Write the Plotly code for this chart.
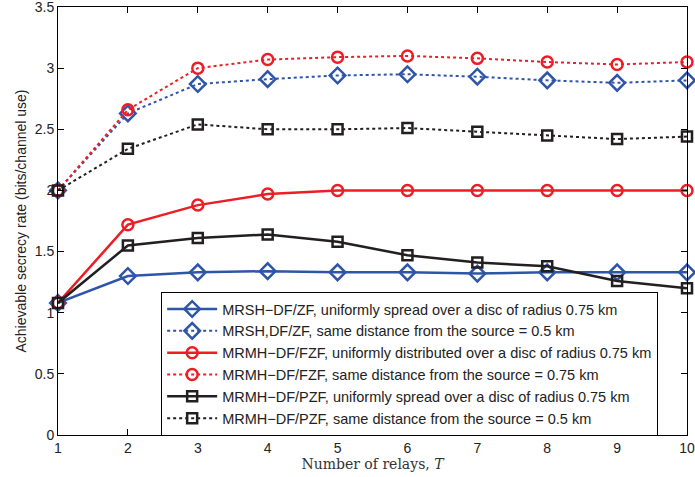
import plotly.graph_objects as go

relays = [1, 2, 3, 4, 5, 6, 7, 8, 9, 10]
mrsh_uniform = [1.08, 1.30, 1.33, 1.34, 1.33, 1.33, 1.32, 1.33, 1.33, 1.33]
mrsh_same = [2.00, 2.63, 2.87, 2.91, 2.94, 2.95, 2.93, 2.90, 2.88, 2.90]
fzf_uniform = [1.08, 1.72, 1.88, 1.97, 2.00, 2.00, 2.00, 2.00, 2.00, 2.00]
fzf_same = [2.00, 2.66, 3.00, 3.07, 3.09, 3.10, 3.08, 3.05, 3.03, 3.05]
pzf_uniform = [1.08, 1.55, 1.61, 1.64, 1.58, 1.47, 1.41, 1.38, 1.26, 1.20]
pzf_same = [2.00, 2.34, 2.54, 2.50, 2.50, 2.51, 2.48, 2.45, 2.42, 2.44]

labels = [
    "MRSH\u2212DF/ZF, uniformly spread over a disc of radius 0.75 km",
    "MRSH,DF/ZF, same distance from the source = 0.5 km",
    "MRMH\u2212DF/FZF, uniformly distributed over a disc of radius 0.75 km",
    "MRMH\u2212DF/FZF, same distance from the source = 0.75 km",
    "MRMH\u2212DF/PZF, uniformly spread over a disc of radius 0.75 km",
    "MRMH\u2212DF/PZF, same distance from the source = 0.5 km",
]

BLUE = "#2f55a8"
RED = "#ee1d25"
BLACK = "#231f20"

series = [
    (mrsh_uniform, BLUE, "solid", "diamond-open", 12),
    (mrsh_same, BLUE, "dot", "diamond-open", 12),
    (fzf_uniform, RED, "solid", "circle-open", 11),
    (fzf_same, RED, "dot", "circle-open", 11),
    (pzf_uniform, BLACK, "solid", "square-open", 10),
    (pzf_same, BLACK, "dot", "square-open", 10),
]

fig = go.Figure()
for (vals, col, dash, sym, sz), lab in zip(series, labels):
    fig.add_trace(go.Scatter(
        x=relays, y=vals, mode="lines+markers", name=lab, cliponaxis=False,
        line=dict(color=col, width=2.5 if dash == "solid" else 2, dash=dash),
        marker=dict(symbol=sym, size=sz, color=col, line=dict(width=2.5, color=col)),
    ))

SANS = "Liberation Sans"
axis_common = dict(
    showline=True, linecolor="black", linewidth=1, mirror="ticks",
    ticks="inside", ticklen=6, tickcolor="black", showgrid=False, zeroline=False,
    ticklabeloverflow="allow", automargin=False,
    tickfont=dict(family=SANS, size=14, color="#222"),
)

fig.update_layout(
    width=695, height=477,
    margin=dict(l=58, r=8, t=7, b=42),
    plot_bgcolor="white", paper_bgcolor="white",
    xaxis=dict(range=[1, 10], dtick=1, **axis_common,
               title=dict(text="Number of relays, <i>T</i>",
                          font=dict(family="DejaVu Serif", size=14, color="#333"),
                          standoff=3)),
    yaxis=dict(range=[0, 3.5], dtick=0.5, **axis_common,
               title=dict(text="Achievable secrecy rate (bits/channel use)",
                          font=dict(family=SANS, size=14, color="#222"),
                          standoff=4)),
    legend=dict(x=0.164, y=0.334, xanchor="left", yanchor="top",
                bgcolor="white", bordercolor="black", borderwidth=1,
                font=dict(family=SANS, size=14.5, color="#222"),
                itemwidth=50, tracegroupgap=0),
    showlegend=True,
)

fig.write_html("out.html", config={"displayModeBar": False},
               post_script="document.body.style.margin='0';")
